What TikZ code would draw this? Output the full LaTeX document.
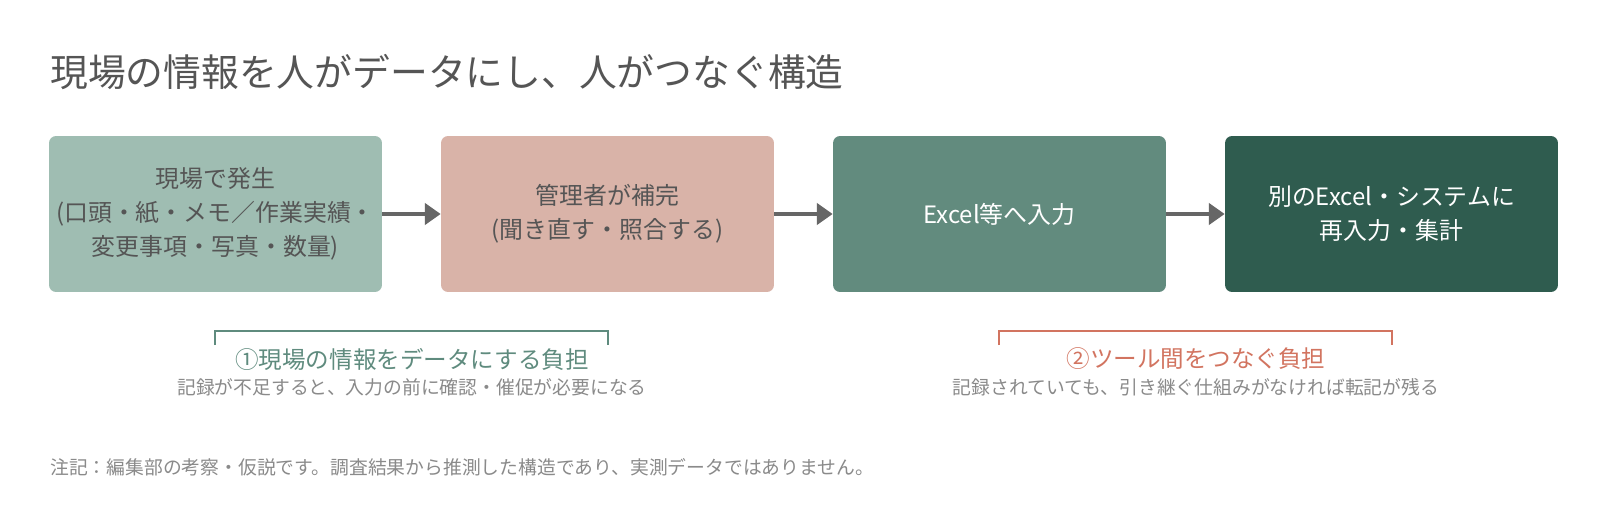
\documentclass[tikz,border=0pt]{standalone}
\usepackage{fontspec}
\setmainfont{Noto Sans CJK JP}
\usetikzlibrary{positioning,arrows.meta}
\definecolor{inkgray}{HTML}{555555}
\definecolor{lightgray}{HTML}{8A8A8A}
\definecolor{arrowgray}{HTML}{666666}
\definecolor{sage}{HTML}{9FBDB2}
\definecolor{rose}{HTML}{D9B3A8}
\definecolor{teal}{HTML}{628B7E}
\definecolor{forest}{HTML}{2F5C4F}
\definecolor{greenline}{HTML}{5F8B7E}
\definecolor{redline}{HTML}{D27460}
\tikzset{
  stage/.style={rounded corners=4pt, minimum width=6.66cm, minimum height=3.12cm,
    align=center, font=\fontsize{13.6}{19.4}\selectfont},
  flow/.style={-{Triangle[length=9pt,width=12pt]}, line width=2.2pt, draw=arrowgray},
  brace/.style={line width=1.3pt},
}
\begin{document}
\begin{tikzpicture}[x=0.02cm,y=-0.02cm]
    \useasboundingbox [fill=white] (0,0) rectangle (1600,524);
    \node [anchor=west, inner sep=0pt, text=inkgray, font=\fontsize{21.5}{24}\selectfont] (title) at (50,72) {現場の情報を人がデータにし、人がつなぐ構造};
    \node [stage, fill=sage, text=inkgray] (field) at (215.5,214) {現場で発生\\(口頭・紙・メモ／作業実績・\\変更事項・写真・数量)};
    \node [stage, fill=rose, text=inkgray] (fill) at (607.5,214) {管理者が補完\\(聞き直す・照合する)};
    \node [stage, fill=teal, text=white] (excel) at (999.5,214) {Excel等へ入力};
    \node [stage, fill=forest, text=white] (reenter) at (1391.5,214) {別のExcel・システムに\\再入力・集計};
    \draw [flow] (field) -- (fill);
    \draw [flow] (fill) -- (excel);
    \draw [flow] (excel) -- (reenter);
    % burden brackets
    \draw [brace, draw=greenline] (215,345) -- (215,331) -- (608,331) -- (608,345);
    \node [text=greenline, font=\fontsize{13.4}{15}\selectfont] (burden1) at (412,359) {①現場の情報をデータにする負担};
    \node [text=lightgray, font=\fontsize{10.7}{12}\selectfont, below=-2pt of burden1] (note1) {記録が不足すると、入力の前に確認・催促が必要になる};
    \draw [brace, draw=redline] (999,345) -- (999,331) -- (1392,331) -- (1392,345);
    \node [text=redline, font=\fontsize{13.4}{15}\selectfont] (burden2) at (1196,359) {②ツール間をつなぐ負担};
    \node [text=lightgray, font=\fontsize{10.7}{12}\selectfont, below=-2pt of burden2] (note2) {記録されていても、引き継ぐ仕組みがなければ転記が残る};
    \node [anchor=west, inner sep=0pt, text=lightgray, font=\fontsize{10.7}{12}\selectfont] (footnote) at (50,467) {注記：編集部の考察・仮説です。調査結果から推測した構造であり、実測データではありません。};
\end{tikzpicture}
\end{document}
